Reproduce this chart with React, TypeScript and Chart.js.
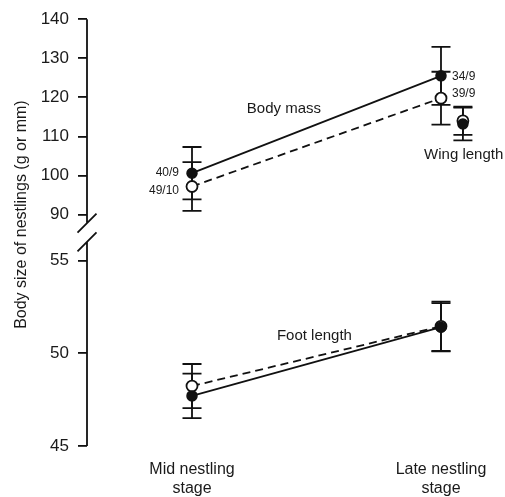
import React, { useEffect, useRef } from 'react';
import { Chart, registerables } from 'chart.js';

Chart.register(...registerables);

// ---- data ----
const stageX = [0, 1];
const stageLabels = [['Mid nestling', 'stage'], ['Late nestling', 'stage']];
const upperTicks = [90, 100, 110, 120, 130, 140];
const lowerTicks = [45, 50, 55];

const bodyMassFilled = [100.6, 125.5];
const bodyMassFilledErr = [6.7, 7.4];
const bodyMassOpen = [97.2, 119.8];
const bodyMassOpenErr = [6.25, 6.75];
const bodyMassFilledN = ['40/9', '34/9'];
const bodyMassOpenN = ['49/10', '39/9'];

const wingX = [1.088];
const wingFilled = [113.2];
const wingFilledErr = [4.2];
const wingOpen = [114.0];
const wingOpenErr = [3.6];

const footFilled = [47.7, 51.4];
const footFilledErr = [1.2, 1.3];
const footOpen = [48.23, 51.45];
const footOpenErr = [1.19, 1.33];

const upperRange = [85.4, 140];
const lowerRange = [45, 56.5];
const breakUpper = 87.8;
const breakLower = 56.0;

const FONT = "'Liberation Sans', Arial, Helvetica, sans-serif";
const INK = '#111';
const TXT = '#1a1a1a';

const pts = (xs: number[], ys: number[]) => ys.map((y, i) => ({ x: xs[i], y }));

const customPlugin = {
  id: 'customDraw',
  beforeDatasetsDraw(chart: any) {
    const ctx = chart.ctx;
    const xs = chart.scales.x;
    const yT = chart.scales.yTop;
    const yB = chart.scales.yBot;
    ctx.save();
    ctx.strokeStyle = INK;
    ctx.lineWidth = 1.8;
    const cap = 9.5;
    const drawErr = (xv: number[], yv: number[], ev: number[], sc: any) => {
      yv.forEach((y, i) => {
        const px = xs.getPixelForValue(xv[i]);
        const p1 = sc.getPixelForValue(y + ev[i]);
        const p2 = sc.getPixelForValue(y - ev[i]);
        ctx.beginPath();
        ctx.moveTo(px, p1); ctx.lineTo(px, p2);
        ctx.moveTo(px - cap, p1); ctx.lineTo(px + cap, p1);
        ctx.moveTo(px - cap, p2); ctx.lineTo(px + cap, p2);
        ctx.stroke();
      });
    };
    drawErr(stageX, bodyMassFilled, bodyMassFilledErr, yT);
    drawErr(stageX, bodyMassOpen, bodyMassOpenErr, yT);
    drawErr(wingX, wingFilled, wingFilledErr, yT);
    drawErr(wingX, wingOpen, wingOpenErr, yT);
    drawErr(stageX, footFilled, footFilledErr, yB);
    drawErr(stageX, footOpen, footOpenErr, yB);
    ctx.restore();
  },
  afterDraw(chart: any) {
    const ctx = chart.ctx;
    const xs = chart.scales.x;
    const yT = chart.scales.yTop;
    const yB = chart.scales.yBot;
    const ca = chart.chartArea;
    const ax = ca.left;
    ctx.save();
    // broken axis line
    ctx.strokeStyle = INK;
    ctx.lineWidth = 1.8;
    const bU = yT.getPixelForValue(breakUpper);
    const bL = yB.getPixelForValue(breakLower);
    ctx.beginPath();
    ctx.moveTo(ax, yT.getPixelForValue(upperRange[1]));
    ctx.lineTo(ax, bU);
    ctx.moveTo(ax, bL);
    ctx.lineTo(ax, yB.getPixelForValue(lowerRange[0]));
    const s = 9.5;
    ctx.moveTo(ax - s, bU + s); ctx.lineTo(ax + s, bU - s);
    ctx.moveTo(ax - s, bL + s); ctx.lineTo(ax + s, bL - s);
    ctx.stroke();

    // y title
    ctx.fillStyle = TXT;
    ctx.font = `16px ${FONT}`;
    ctx.textAlign = 'center';
    ctx.textBaseline = 'middle';
    ctx.translate(22, (ca.top + ca.bottom) / 2 - 18);
    ctx.rotate(-Math.PI / 2);
    ctx.fillText('Body size of nestlings (g or mm)', 0, 0);
    ctx.restore();

    ctx.save();
    ctx.fillStyle = TXT;
    ctx.textBaseline = 'middle';
    // sample sizes
    ctx.font = `12px ${FONT}`;
    ctx.textAlign = 'right';
    ctx.fillText(bodyMassFilledN[0], xs.getPixelForValue(stageX[0]) - 13, yT.getPixelForValue(bodyMassFilled[0]) - 1);
    ctx.fillText(bodyMassOpenN[0], xs.getPixelForValue(stageX[0]) - 13, yT.getPixelForValue(bodyMassOpen[0]) + 4);
    ctx.textAlign = 'left';
    ctx.fillText(bodyMassFilledN[1], xs.getPixelForValue(stageX[1]) + 11, yT.getPixelForValue(bodyMassFilled[1]) + 1);
    ctx.fillText(bodyMassOpenN[1], xs.getPixelForValue(stageX[1]) + 11, yT.getPixelForValue(bodyMassOpen[1]) - 4);
    // series labels
    ctx.font = `15px ${FONT}`;
    ctx.fillText('Body mass', xs.getPixelForValue(0.22), yT.getPixelForValue(117));
    ctx.fillText('Wing length', xs.getPixelForValue(0.932), yT.getPixelForValue(105.3));
    ctx.fillText('Foot length', xs.getPixelForValue(0.341), yB.getPixelForValue(50.91));
    ctx.restore();
  },
};

const yScaleBase = (ticksArr: number[], range: number[]) => ({
  type: 'linear' as const,
  position: 'left' as const,
  stack: 'y',
  stackWeight: 1,
  min: range[0],
  max: range[1],
  afterBuildTicks: (sc: any) => {
    sc.ticks = ticksArr.map((v) => ({ value: v }));
  },
  afterFit: (sc: any) => {
    sc.width = 87;
  },
  grid: { drawOnChartArea: false, drawTicks: true, tickLength: 9, color: INK, lineWidth: 1.8 },
  border: { display: false },
  ticks: { padding: 9, color: TXT, font: { family: FONT, size: 17 } },
});

export default function App() {
  const ref = useRef<HTMLCanvasElement>(null);
  useEffect(() => {
    if (!ref.current) return;
    const filledPt = { pointBackgroundColor: INK, pointBorderColor: INK, pointRadius: 5, pointBorderWidth: 1.5 };
    const openPt = { pointBackgroundColor: '#fff', pointBorderColor: INK, pointRadius: 5.5, pointBorderWidth: 1.8 };
    const chart = new Chart(ref.current, {
      type: 'line',
      data: {
        datasets: [
          { label: 'Body mass (filled)', data: pts(stageX, bodyMassFilled), yAxisID: 'yTop', borderColor: INK, borderWidth: 1.8, ...filledPt },
          { label: 'Wing length (filled)', data: pts(wingX, wingFilled), yAxisID: 'yTop', showLine: false, ...filledPt },
          { label: 'Foot length (filled)', data: pts(stageX, footFilled), yAxisID: 'yBot', borderColor: INK, borderWidth: 1.8, ...filledPt },
          { label: 'Body mass (open)', data: pts(stageX, bodyMassOpen), yAxisID: 'yTop', borderColor: INK, borderWidth: 1.8, borderDash: [8, 5], ...openPt },
          { label: 'Wing length (open)', data: pts(wingX, wingOpen), yAxisID: 'yTop', showLine: false, ...openPt },
          { label: 'Foot length (open)', data: pts(stageX, footOpen), yAxisID: 'yBot', borderColor: INK, borderWidth: 1.8, borderDash: [8, 5], ...openPt },
        ],
      },
      options: {
        responsive: false,
        animation: false,
        events: [],
        layout: { padding: { top: 18, right: 10, left: 0, bottom: 0 } },
        plugins: { legend: { display: false }, tooltip: { enabled: false } },
        scales: {
          x: {
            type: 'linear',
            min: -0.4217,
            max: 1.2169,
            grid: { display: false, drawTicks: false },
            border: { display: false },
            afterBuildTicks: (sc: any) => {
              sc.ticks = stageX.map((v) => ({ value: v }));
            },
            afterFit: (sc: any) => {
              sc.height = 51;
            },
            ticks: {
              autoSkip: false,
              maxRotation: 0,
              padding: 14,
              color: TXT,
              font: { family: FONT, size: 16, lineHeight: 1.2 },
              callback: (v: any) => {
                const i = stageX.indexOf(Number(v));
                return i >= 0 ? stageLabels[i] : '';
              },
            },
          },
          yBot: yScaleBase(lowerTicks, lowerRange),
          yTop: yScaleBase(upperTicks, upperRange),
        },
      } as any,
      plugins: [customPlugin],
    });
    return () => chart.destroy();
  }, []);
  return (
    <div style={{ position: 'absolute', left: 0, top: 0, width: 505, height: 497, background: '#fff' }}>
      <canvas ref={ref} width={505} height={497} style={{ width: 505, height: 497, display: 'block' }} />
    </div>
  );
}
